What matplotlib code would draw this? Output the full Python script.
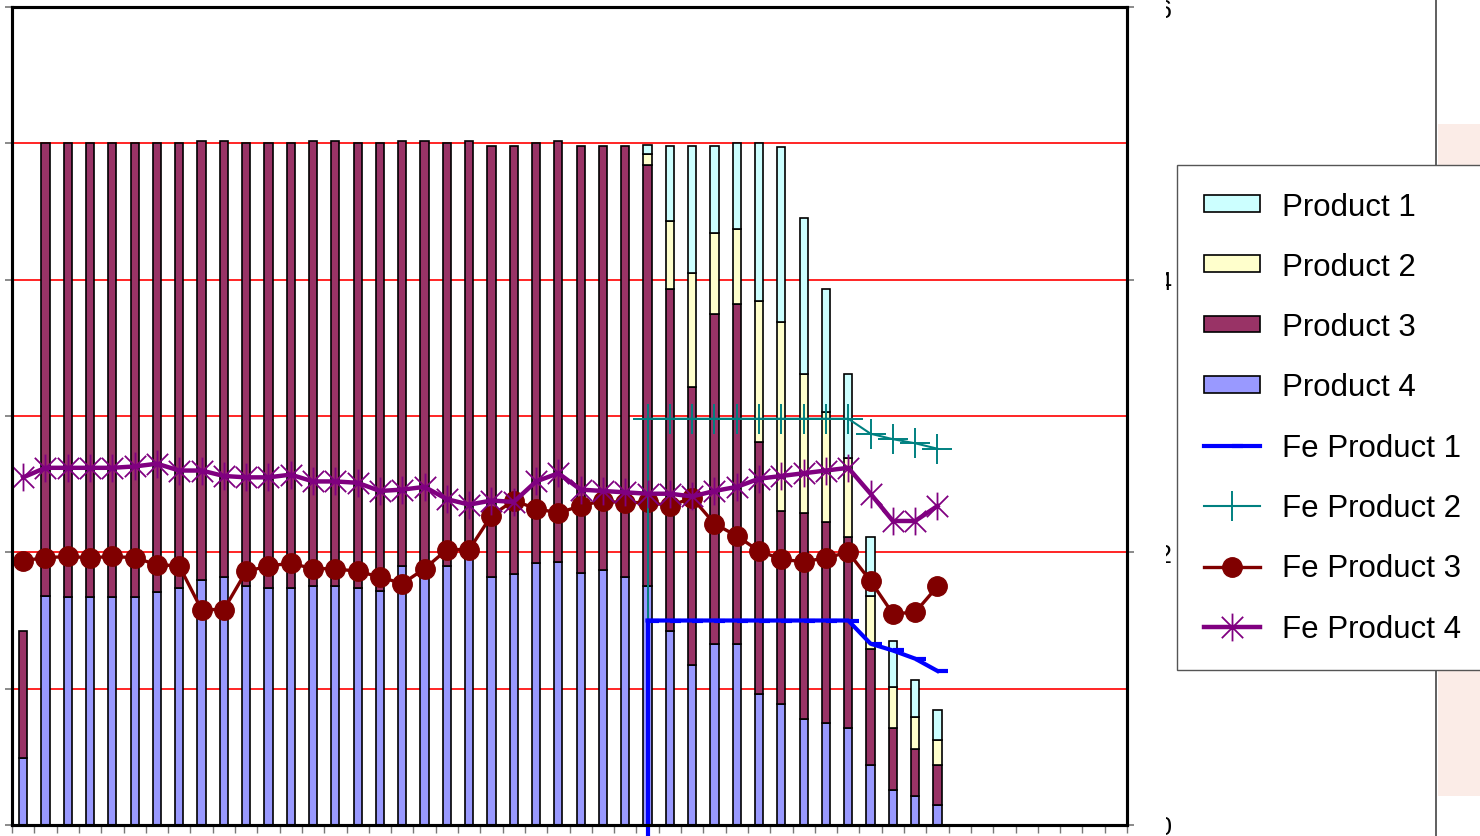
import matplotlib.pyplot as plt
import numpy as np
from matplotlib.path import Path
from matplotlib.patches import Rectangle
from matplotlib.lines import Line2D

plt.rcParams['font.family'] = ['Liberation Sans', 'DejaVu Sans']

n_cat = 50

# stacked bars (left axis), categories 0..41 have data
p4 = [0.49, 1.68, 1.67, 1.67, 1.67, 1.67, 1.71, 1.74, 1.80, 1.82,
      1.75, 1.74, 1.74, 1.75, 1.75, 1.74, 1.72, 1.90, 1.82, 1.90,
      1.95, 1.82, 1.84, 1.92, 1.93, 1.85, 1.87, 1.82, 1.75, 1.42,
      1.17, 1.33, 1.33, 0.96, 0.89, 0.78, 0.75, 0.71, 0.44, 0.26,
      0.21, 0.15]
p3 = [0.93, 3.32, 3.33, 3.33, 3.33, 3.33, 3.29, 3.26, 3.22, 3.20,
      3.25, 3.26, 3.26, 3.27, 3.27, 3.26, 3.28, 3.12, 3.20, 3.10,
      3.07, 3.16, 3.14, 3.08, 3.09, 3.13, 3.11, 3.16, 3.09, 2.51,
      2.04, 2.42, 2.49, 1.85, 1.41, 1.51, 1.47, 1.40, 0.85, 0.45,
      0.35, 0.29]
# products 1 and 2 start at category 28
p2 = [0.08, 0.50, 0.84, 0.59, 0.55, 1.03, 1.39, 1.02, 0.81, 0.58,
      0.39, 0.30, 0.23, 0.18]
p1 = [0.07, 0.55, 0.93, 0.64, 0.63, 1.16, 1.28, 1.14, 0.90, 0.62,
      0.43, 0.34, 0.27, 0.22]
late_start = 28

# Fe lines (right axis, 0..6)
fe3 = [1.94, 1.96, 1.97, 1.96, 1.97, 1.96, 1.91, 1.90, 1.58, 1.58,
       1.86, 1.90, 1.92, 1.88, 1.88, 1.86, 1.82, 1.77, 1.88, 2.02,
       2.02, 2.27, 2.38, 2.32, 2.29, 2.34, 2.38, 2.36, 2.37, 2.34,
       2.40, 2.21, 2.12, 2.01, 1.95, 1.93, 1.96, 2.00, 1.79, 1.55,
       1.56, 1.75]
fe4 = [2.55, 2.62, 2.62, 2.62, 2.62, 2.63, 2.65, 2.60, 2.60, 2.56,
       2.55, 2.55, 2.57, 2.52, 2.52, 2.51, 2.45, 2.46, 2.48, 2.39,
       2.35, 2.38, 2.37, 2.52, 2.58, 2.46, 2.45, 2.44, 2.43, 2.43,
       2.41, 2.45, 2.48, 2.54, 2.56, 2.58, 2.60, 2.62, 2.43, 2.23,
       2.23, 2.34]
fe2 = [2.98, 2.98, 2.98, 2.98, 2.98, 2.98, 2.98, 2.98, 2.98, 2.98,
       2.87, 2.83, 2.80, 2.76]
fe1 = [1.50, 1.50, 1.50, 1.50, 1.50, 1.50, 1.50, 1.50, 1.50, 1.50,
       1.33, 1.28, 1.22, 1.13]

right_ticks = [0, 2, 4, 6]

W, H = 1480, 837
fig = plt.figure(figsize=(W / 100, H / 100), dpi=100)
ax = fig.add_axes([12 / W, 11 / H, 1115 / W, 818 / H])

x = np.arange(len(p4))
xl = np.arange(late_start, late_start + len(p1))
p4a, p3a, p2a = np.array(p4), np.array(p3), np.array(p2)
bw = 0.37
bkw = dict(edgecolor='black', linewidth=1.2, zorder=2)
b4 = ax.bar(x, p4, bw, color='#9999FF', **bkw)
b3 = ax.bar(x, p3, bw, bottom=p4a, color='#993366', **bkw)
base = (p4a + p3a)[late_start:]
b2 = ax.bar(xl, p2, bw, bottom=base, color='#FFFFCC', **bkw)
b1 = ax.bar(xl, p1, bw, bottom=base + p2a, color='#CCFFFF', **bkw)

ax.set_xlim(-0.5, n_cat - 0.5)
ax.set_ylim(0, 6)
ax.set_yticks(np.arange(0, 7))
ax.set_yticklabels([])
for g in range(1, 6):
    ax.axhline(g, color='#FF0000', lw=1.2, zorder=1)
ax.set_xticks([])
ax.set_xticks(np.arange(-0.5, n_cat), minor=True)
ax.tick_params(axis='x', which='minor', length=6, color='#777777', width=1)
ax.tick_params(axis='y', length=5, color='#777777', width=1.2)
for s in ax.spines.values():
    s.set_linewidth(2.2)
    s.set_color('black')

# asterisk marker like the spreadsheet one
ast = Path([(-1, -1), (1, 1), (-1, 1), (1, -1), (0, -1.3), (0, 1.3)],
           [Path.MOVETO, Path.LINETO, Path.MOVETO, Path.LINETO,
            Path.MOVETO, Path.LINETO])
dash = Path([(0, 0), (1, 0)])

l3, = ax.plot(x, fe3, color='#800000', lw=2.4, marker='o', ms=14,
              mec='#800000', zorder=4)
l4, = ax.plot(x, fe4, color='#800080', lw=3.2, marker=ast, ms=20,
              mew=1.3, mfc='none', zorder=5)
ax.plot([late_start, late_start], [fe2[0], -0.1], color='#008080', lw=1.4,
        zorder=4, clip_on=False)
l2, = ax.plot(xl, fe2, color='#008080', lw=1.5, marker='+', ms=22,
              mew=1.4, zorder=4)
ax.plot([late_start, late_start], [fe1[0], -0.1], color='#0000FF', lw=3,
        zorder=4, clip_on=False)
l1, = ax.plot(xl, fe1, color='#0000FF', lw=3, marker=dash, ms=16,
              mew=3, zorder=4)

ax2 = ax.twinx()
ax2.set_ylim(0, 6)
ax2.set_yticks(right_ticks)
ax2.set_yticklabels([str(t) for t in right_ticks], fontsize=18)
ax2.tick_params(axis='y', length=5, color='#777777', width=1.2, pad=17)
for s in ax2.spines.values():
    s.set_linewidth(2.2)

# cropped look of the right-hand labels
fig.add_artist(Rectangle((1137 / W, 0), 29 / W, 1, transform=fig.transFigure,
                         facecolor='white', edgecolor='none', zorder=10))
fig.add_artist(Rectangle((1438 / W, 40 / H), 42 / W, 672 / H,
                         transform=fig.transFigure, facecolor='#FBECE7',
                         edgecolor='none', zorder=10))
fig.add_artist(Line2D([1436 / W, 1436 / W], [0, 1], transform=fig.transFigure,
                      color='#444444', lw=1.2, zorder=10))

handles = [b1, b2, b3, b4, l1, l2, l3, l4]
labels = ['Product 1', 'Product 2', 'Product 3', 'Product 4',
          'Fe Product 1', 'Fe Product 2', 'Fe Product 3', 'Fe Product 4']
leg = fig.legend(handles, labels, loc='upper left',
                 bbox_to_anchor=(1177 / W, 1 - 166 / H),
                 bbox_transform=fig.transFigure, borderaxespad=0,
                 fontsize=22.5, frameon=True, fancybox=False, framealpha=1,
                 edgecolor='#555555', borderpad=0.85, labelspacing=0.97,
                 handlelength=1.8, handleheight=0.45, handletextpad=0.7)
leg.set_zorder(20)
leg.get_frame().set_linewidth(1.0)

fig.savefig('out.png', dpi=100)
